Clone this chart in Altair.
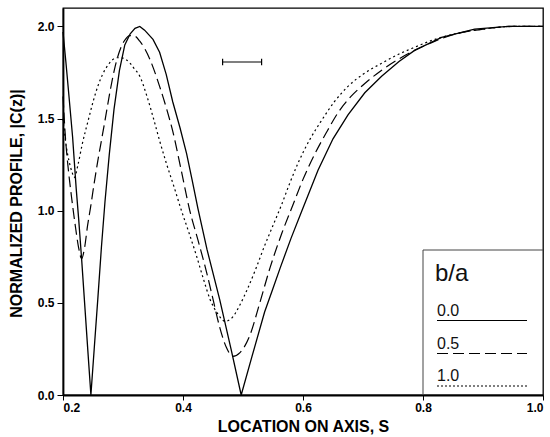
import altair as alt
import pandas as pd

# ---- data ----
s_00 = [0.200, 0.205, 0.210, 0.216, 0.222, 0.226, 0.231, 0.236, 0.241, 0.2465,
        0.252, 0.258, 0.264, 0.270, 0.277, 0.285, 0.294, 0.303, 0.312, 0.320,
        0.328, 0.336, 0.350, 0.361, 0.372, 0.383, 0.395, 0.406, 0.415, 0.425,
        0.440, 0.461, 0.480, 0.497, 0.515, 0.536, 0.548, 0.562, 0.580, 0.597,
        0.625, 0.650, 0.675, 0.703, 0.731, 0.760, 0.786, 0.831, 0.886, 0.942, 1.000]
v_00 = [1.97, 1.80, 1.62, 1.40, 1.12, 0.96, 0.74, 0.50, 0.26, 0.00,
        0.25, 0.52, 0.80, 1.05, 1.30, 1.55, 1.76, 1.90, 1.96, 1.99,
        2.00, 1.98, 1.93, 1.86, 1.74, 1.59, 1.45, 1.31, 1.17, 1.01,
        0.79, 0.52, 0.25, 0.00, 0.21, 0.45, 0.56, 0.69, 0.85, 0.99,
        1.22, 1.39, 1.52, 1.64, 1.73, 1.81, 1.87, 1.94, 1.985, 2.00, 2.00]

s_05 = [0.200, 0.204, 0.209, 0.214, 0.220, 0.226, 0.231, 0.236, 0.241, 0.246,
        0.252, 0.258, 0.264, 0.270, 0.278, 0.286, 0.297, 0.304, 0.311, 0.318,
        0.328, 0.345, 0.361, 0.372, 0.383, 0.397, 0.411, 0.425, 0.439, 0.450,
        0.461, 0.472, 0.483, 0.495, 0.511, 0.528, 0.545, 0.565, 0.583, 0.600,
        0.620, 0.640, 0.658, 0.680, 0.703, 0.730, 0.758, 0.786, 0.820, 0.850,
        0.900, 0.950, 1.000]
v_05 = [1.62, 1.40, 1.22, 1.08, 0.93, 0.80, 0.74, 0.80, 0.92, 1.02,
        1.15, 1.27, 1.38, 1.49, 1.64, 1.77, 1.89, 1.93, 1.95, 1.95,
        1.92, 1.82, 1.675, 1.56, 1.43, 1.22, 1.005, 0.84, 0.67, 0.52,
        0.37, 0.26, 0.21, 0.23, 0.32, 0.50, 0.69, 0.88, 1.03, 1.17,
        1.31, 1.43, 1.53, 1.62, 1.69, 1.76, 1.82, 1.87, 1.92, 1.955,
        1.985, 2.00, 2.00]

s_10 = [0.200, 0.205, 0.210, 0.215, 0.219, 0.225, 0.232, 0.242, 0.250, 0.258,
        0.266, 0.275, 0.283, 0.290, 0.297, 0.305, 0.312, 0.319, 0.328, 0.340,
        0.350, 0.361, 0.372, 0.385, 0.397, 0.410, 0.422, 0.434, 0.445, 0.458,
        0.470, 0.482, 0.495, 0.508, 0.522, 0.536, 0.550, 0.564, 0.578, 0.592,
        0.612, 0.631, 0.652, 0.675, 0.700, 0.731, 0.760, 0.781, 0.820, 0.860,
        0.900, 0.950, 1.000]
v_10 = [1.50, 1.36, 1.27, 1.21, 1.18, 1.25, 1.36, 1.49, 1.59, 1.675,
        1.74, 1.79, 1.82, 1.83, 1.83, 1.82, 1.80, 1.77, 1.73, 1.62,
        1.51, 1.38, 1.26, 1.13, 1.005, 0.88, 0.76, 0.63, 0.52, 0.44,
        0.40, 0.42, 0.49, 0.58, 0.69, 0.81, 0.92, 1.03, 1.15, 1.26,
        1.39, 1.49, 1.59, 1.675, 1.74, 1.80, 1.85, 1.88, 1.93, 1.965,
        1.985, 2.00, 2.00]

x_ticks = [0.2, 0.4, 0.6, 0.8, 1.0]
y_ticks = [0.0, 0.5, 1.0, 1.5, 2.0]
legend_labels = ["0.0", "0.5", "1.0"]
legend_title = "b/a"

# scale bar near top
bar_s = [0.466, 0.531]
bar_v = 1.807

FONT = "Liberation Sans"
W, H = 480, 387

xsc = alt.Scale(domain=[0.2, 1.0], nice=False, zero=False)
ysc = alt.Scale(domain=[0.0, 2.1], nice=False, zero=False)

x_axis = alt.Axis(values=x_ticks, format=".1f", grid=False, title="LOCATION ON AXIS, S",
                  tickSize=5, labelPadding=2, titleY=31, titleBaseline="middle",
                  titleX=W / 2, titleAlign="center")
y_axis = alt.Axis(values=y_ticks, format=".1f", grid=False, title="NORMALIZED PROFILE, |C(z)|",
                  tickSize=6, labelPadding=3, titleX=-47, titleY=195,
                  titleAngle=270, titleAlign="center", titleBaseline="middle")

def series(s, v):
    return pd.DataFrame({"s": s, "v": v})

l_solid = alt.Chart(series(s_00, v_00)).mark_line(color="black", strokeWidth=1.3,
                                                  interpolate="linear").encode(
    x=alt.X("s:Q", scale=xsc, axis=x_axis), y=alt.Y("v:Q", scale=ysc, axis=y_axis))
l_dash = alt.Chart(series(s_05, v_05)).mark_line(color="black", strokeWidth=1.2,
                                                 strokeDash=[11, 5], interpolate="monotone").encode(
    x=alt.X("s:Q", scale=xsc), y=alt.Y("v:Q", scale=ysc))
l_dot = alt.Chart(series(s_10, v_10)).mark_line(color="black", strokeWidth=1.2,
                                                strokeDash=[2, 3], interpolate="monotone").encode(
    x=alt.X("s:Q", scale=xsc), y=alt.Y("v:Q", scale=ysc))

bar_df = pd.DataFrame({"s1": [bar_s[0]], "s2": [bar_s[1]], "v": [bar_v]})
bar = alt.Chart(bar_df).mark_rule(color="black", strokeWidth=1.2).encode(
    x=alt.X("s1:Q", scale=xsc), x2="s2:Q", y=alt.Y("v:Q", scale=ysc))
caps_df = pd.DataFrame({"s": bar_s, "v1": [bar_v - 0.017] * 2, "v2": [bar_v + 0.017] * 2})
caps = alt.Chart(caps_df).mark_rule(color="black", strokeWidth=1.2).encode(
    x=alt.X("s:Q", scale=xsc), y=alt.Y("v1:Q", scale=ysc), y2="v2:Q")

one = pd.DataFrame({"k": [0]})
box_left = alt.Chart(one).mark_rule(color="#444", strokeWidth=1).encode(
    x=alt.value(360), y=alt.value(242), y2=alt.value(H))
box_top = alt.Chart(one).mark_rule(color="#444", strokeWidth=1).encode(
    x=alt.value(360), x2=alt.value(W), y=alt.value(242))
leg_title = alt.Chart(one).mark_text(font=FONT, fontSize=24, align="left", baseline="alphabetic",
                                     color="#111").encode(
    x=alt.value(372), y=alt.value(273), text=alt.value(legend_title))

leg_layers = []
text_y = [308, 341, 373]
line_y = [312.5, 345.5, 378]
dashes = [None, [11, 5], [2, 2]]
for lab, ty, ly, d in zip(legend_labels, text_y, line_y, dashes):
    leg_layers.append(alt.Chart(one).mark_text(font=FONT, fontSize=16, align="left",
                                               baseline="alphabetic", color="#111").encode(
        x=alt.value(374), y=alt.value(ty), text=alt.value(lab)))
    kw = dict(color="black", strokeWidth=1.1)
    if d is not None:
        kw["strokeDash"] = d
    leg_layers.append(alt.Chart(one).mark_rule(**kw).encode(
        x=alt.value(374), x2=alt.value(464), y=alt.value(ly)))

chart = alt.layer(l_solid, l_dash, l_dot, bar, caps, box_left, box_top, leg_title,
                  *leg_layers).properties(
    width=W, height=H,
    background="white",
    autosize=alt.AutoSizeParams(type="none"),
    padding={"left": 63, "top": 8, "right": 7, "bottom": 42},
).configure_view(stroke="black", strokeWidth=1.3).configure_axis(
    domainColor="black", domainWidth=1.8, tickColor="black", tickWidth=1,
    labelFont=FONT, labelFontWeight="bold", labelFontSize=12, labelColor="black",
    titleFont=FONT, titleFontWeight="bold", titleFontSize=16, titleColor="black",
)

chart.save("out.html", embed_options={"renderer": "svg", "actions": False})
